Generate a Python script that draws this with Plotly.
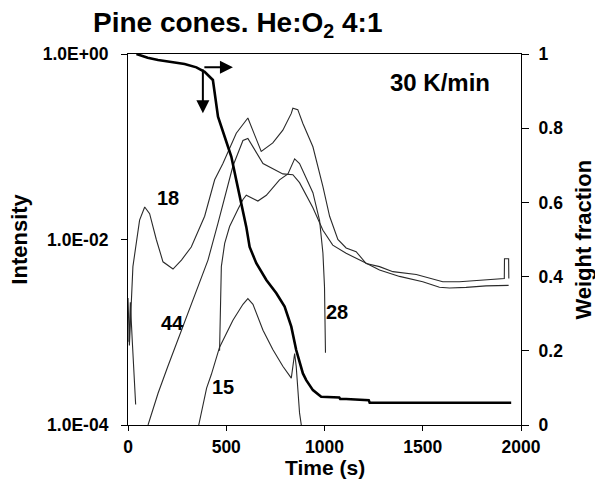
import plotly.graph_objects as go

# ---- data ----
time_18 = [0, 7, 25, 38, 59, 85, 110, 144, 178, 229, 272, 322, 390, 441, 483, 551, 610,
           678, 737, 788, 831, 839, 864, 890, 941, 992, 1026, 1068, 1110, 1161, 1212, 1280,
           1348, 1467, 1602, 1687, 1805, 1915, 1916, 1937, 1938]
int_18 = [2.34e-3, 7.2e-4, 5.1e-3, 8.3e-3, 1.62e-2, 2.24e-2, 1.9e-2, 1.0e-2, 5.75e-3, 4.8e-3,
          6.0e-3, 8.3e-3, 1.78e-2, 4.4e-2, 6.6e-2, 0.14, 0.204,
          0.089, 0.11, 0.151, 0.229, 0.26, 0.251, 0.178, 0.1, 0.0372, 0.0178, 0.01, 8.1e-3,
          7.4e-3, 5.5e-3, 5.1e-3, 4.5e-3, 4.2e-3, 3.5e-3, 3.5e-3, 3.63e-3, 3.8e-3, 6.2e-3,
          6.2e-3, 3.8e-3]

time_44 = [5, 12, 22, 39, None, 102, 153, 203, 280, 339, 407, 458, 492, 534, 585, 610, 687,
           788, 839, 873, 941, 992, 1042, 1110, 1195, 1280, 1382, 1500, 1585, 1636, 1721,
           1822, 1937]
int_44 = [7.9e-4, 2.1e-3, 7.9e-4, 1.66e-4, None, 1.0e-4, 2.2e-4, 4.3e-4, 1.15e-3, 2.4e-3,
          6.0e-3, 1.5e-2, 2.9e-2, 6.2e-2, 0.117, 0.123, 0.066, 0.051, 0.050, 0.041, 0.022,
          0.0126, 8.7e-3, 7.1e-3, 5.8e-3, 4.7e-3, 4.0e-3, 3.5e-3, 3.05e-3, 3.0e-3, 3.05e-3,
          3.16e-3, 3.2e-3]

time_15 = [360, 380, 400, 424, 466, 534, 585, 610, 636, 687, 737, 788, 831, 848, 856, 873, 882]
int_15 = [1.0e-4, 1.6e-4, 2.5e-4, 3.5e-4, 6.9e-4, 1.35e-3, 2.0e-3, 2.3e-3, 2.0e-3, 1.05e-3,
          6.5e-4, 4.3e-4, 3.2e-4, 5.9e-4, 4.3e-4, 1.35e-4, 1.0e-4]

time_28 = [466, 470, 475, 492, 517, 559, 585, 602, 661, 704, 771, 814, 848, 873, 941, 975,
           992, 1000, 1005]
int_28 = [6.3e-4, 2.5e-3, 5.1e-3, 9.1e-3, 1.38e-2, 2.1e-2, 2.7e-2, 3.0e-2, 2.6e-2, 3.0e-2,
          4.4e-2, 5.1e-2, 7.4e-2, 6.6e-2, 3.2e-2, 1.6e-2, 7.1e-3, 3.1e-3, 6.0e-4]

time_tg = [43, 100, 153, 288, 348, 390, 432, 441, 458, 492, 526, 551, 577, 602, 619, 653,
           704, 755, 797, 831, 856, 890, 907, 941, 983, 1075, 1080, 1110, 1225, 1230, 1950]
weight_tg = [1.0, 0.99, 0.984, 0.973, 0.964, 0.952, 0.930, 0.894, 0.831, 0.777, 0.723, 0.660,
             0.597, 0.534, 0.480, 0.436, 0.391, 0.355, 0.319, 0.265, 0.202, 0.139, 0.121,
             0.094, 0.076, 0.074, 0.070, 0.070, 0.067, 0.060, 0.060]

x_ticks = [0, 500, 1000, 1500, 2000]
left_tickvals = [1, 1e-2, 1e-4]
left_ticktext = ["1.0E+00", "1.0E-02", "1.0E-04"]
right_tickvals = [0, 0.2, 0.4, 0.6, 0.8, 1]
right_ticktext = ["0", "0.2", "0.4", "0.6", "0.8", "1"]

FONT = "Liberation Sans"
thin = dict(color="#2a2a2a", width=1.1)

fig = go.Figure()
for xs, ys in [(time_18, int_18), (time_44, int_44), (time_15, int_15), (time_28, int_28)]:
    fig.add_trace(go.Scatter(x=xs, y=ys, mode="lines", line=thin, yaxis="y",
                             connectgaps=False, showlegend=False, hoverinfo="skip"))
fig.add_trace(go.Scatter(x=time_tg, y=weight_tg, mode="lines", yaxis="y2",
                         line=dict(color="black", width=2.6), showlegend=False,
                         hoverinfo="skip"))

tickfont = dict(family=FONT, size=17.5, color="black", weight="bold")

fig.update_layout(
    width=595, height=481,
    margin=dict(l=128, r=74, t=54, b=56),
    paper_bgcolor="white", plot_bgcolor="white",
    xaxis=dict(range=[0, 2000], tickvals=x_ticks, ticks="outside", ticklen=5,
               tickcolor="black", showline=True, linecolor="black", linewidth=1.2,
               mirror=True, showgrid=False, zeroline=False, tickfont=tickfont,
               ticklabelstandoff=1),
    yaxis=dict(type="log", range=[-4, 0], tickvals=left_tickvals, ticktext=left_ticktext,
               ticks="outside", ticklen=6, tickcolor="black", showline=True,
               linecolor="black", linewidth=1.2, showgrid=False, zeroline=False,
               tickfont=tickfont, ticklabelstandoff=9),
    yaxis2=dict(overlaying="y", side="right", anchor="x", range=[0, 1],
                tickvals=right_tickvals, ticktext=right_ticktext, ticks="outside",
                ticklen=7, tickcolor="black", showline=True, linecolor="black",
                linewidth=1.2, showgrid=False, zeroline=False, tickfont=tickfont,
                ticklabelstandoff=6),
    yaxis3=dict(overlaying="y", side="right", anchor="x", range=[0, 1],
                tickvals=[0.2, 0.4, 0.6, 0.8], ticks="inside", ticklen=7,
                tickcolor="black", showticklabels=False, showline=False,
                showgrid=False, zeroline=False),
)

title_f = dict(family=FONT, size=28, color="black", weight="bold")
big = dict(family=FONT, size=24, color="black", weight="bold")
ytit = dict(family=FONT, size=22, color="black", weight="bold")
xtit = dict(family=FONT, size=21, color="black", weight="bold")
lab = dict(family=FONT, size=20, color="black", weight="bold")
ann = [
    dict(text="Pine cones. He:O<sub>2</sub> 4:1", xref="paper", yref="paper",
         x=-0.093, y=1.08, xanchor="left", yanchor="middle", showarrow=False,
         font=title_f),
    dict(text="30 K/min", xref="x", yref="y", x=1590, y=-0.31, showarrow=False, font=big),
    dict(text="Intensity", xref="paper", yref="paper", x=-0.277, y=0.5, textangle=-90,
         xanchor="center", yanchor="middle", showarrow=False, font=ytit),
    dict(text="Weight fraction", xref="paper", yref="paper", x=1.158, y=0.5, textangle=-90,
         xanchor="center", yanchor="middle", showarrow=False, font=ytit),
    dict(text="Time (s)", xref="paper", yref="paper", x=0.5, y=-0.115, xanchor="center",
         yanchor="middle", showarrow=False, font=xtit),
    dict(text="18", xref="x", yref="y", x=202, y=-1.55, showarrow=False, font=lab),
    dict(text="44", xref="x", yref="y", x=227, y=-2.9, showarrow=False, font=lab),
    dict(text="15", xref="x", yref="y", x=482, y=-3.59, showarrow=False, font=lab),
    dict(text="28", xref="x", yref="y", x=1066, y=-2.78, showarrow=False, font=lab),
    # arrows
    dict(text="", xref="x", yref="y2", x=534, y=0.964, axref="x", ayref="y2", ax=381,
         ay=0.964, showarrow=True, arrowhead=2, arrowsize=1.3, arrowwidth=2,
         arrowcolor="black"),
    dict(text="", xref="x", yref="y2", x=381, y=0.840, axref="x", ayref="y2", ax=381,
         ay=0.962, showarrow=True, arrowhead=2, arrowsize=1.3, arrowwidth=2,
         arrowcolor="black"),
]
fig.update_layout(annotations=ann)

fig.write_html("out.html")
